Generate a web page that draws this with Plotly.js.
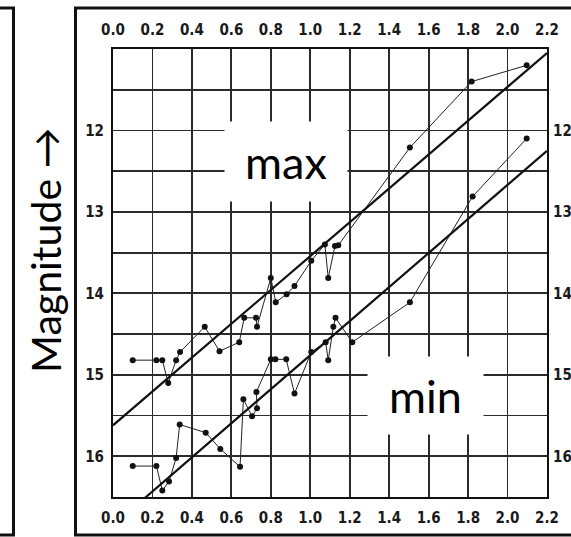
<!DOCTYPE html>
<html>
<head>
<meta charset="utf-8">
<script src="https://cdn.plot.ly/plotly-3.0.1.min.js"></script>
<style>html,body{margin:0;padding:0;background:#fff;}#chart{width:571px;height:537px;}</style>
</head>
<body>
<div id="chart"></div>
<script>
// log period values and magnitudes
const maxLogP = [0.10,0.22,0.25,0.28,0.32,0.34,0.465,0.54,0.64,0.665,0.725,0.73,0.80,0.825,0.88,0.92,1.005,1.074,1.091,1.125,1.142,1.505,1.818,2.097];
const maxMag  = [14.82,14.82,14.82,15.10,14.82,14.72,14.41,14.71,14.60,14.30,14.30,14.41,13.81,14.11,14.01,13.91,13.60,13.40,13.81,13.42,13.41,12.21,11.40,11.20];
const minLogP = [0.10,0.22,0.25,0.284,0.32,0.338,0.47,0.544,0.644,0.661,0.705,0.73,0.727,0.80,0.823,0.878,0.92,1.005,1.078,1.091,1.117,1.128,1.213,1.505,1.823,2.097];
const minMag  = [16.12,16.12,16.42,16.31,16.02,15.61,15.71,15.91,16.13,15.30,15.51,15.41,15.21,14.81,14.81,14.81,15.23,14.72,14.60,14.82,14.41,14.30,14.60,14.11,12.81,12.10];
// straight fitted lines (end points)
const maxFitLogP = [0, 2.2];
const maxFitMag  = [15.62, 11.05];
const minFitLogP = [0, 2.2];
const minFitMag  = [16.85, 12.25];
// tick labels
const xTickVals = [0,0.2,0.4,0.6,0.8,1.0,1.2,1.4,1.6,1.8,2.0,2.2];
const xTickText = ['0.0','0.2','0.4','0.6','0.8','1.0','1.2','1.4','1.6','1.8','2.0','2.2'];
const yTickVals = [12,13,14,15,16];
const yTickText = ['12','13','14','15','16'];
// labels
const yAxisLabel = 'Magnitude \u2192';
const maxLabel = 'max';
const minLabel = 'min';

const W = 571, H = 537;
const M = {l:113, r:24, t:49, b:40};
const pw = W - M.l - M.r, ph = H - M.t - M.b;
const px = v => (v - M.l) / pw;
const py = v => (H - M.b - v) / ph;

const ptStyle = {color:'#111', size:6};
const thin = {color:'#222', width:1};
const thick = {color:'#111', width:2.2};

const traces = [
  {x:maxLogP, y:maxMag, mode:'lines+markers', marker:ptStyle, line:thin, xaxis:'x', yaxis:'y', hoverinfo:'skip'},
  {x:minLogP, y:minMag, mode:'lines+markers', marker:ptStyle, line:thin, xaxis:'x', yaxis:'y', hoverinfo:'skip'},
  {x:maxFitLogP, y:maxFitMag, mode:'lines', line:thick, xaxis:'x2', yaxis:'y2', hoverinfo:'skip'},
  {x:minFitLogP, y:minFitMag, mode:'lines', line:thick, xaxis:'x2', yaxis:'y2', hoverinfo:'skip'}
];

const tickFont = {family:'"Liberation Sans Narrow", "DejaVu Sans Condensed", sans-serif', size:15, color:'#1a1a1a', weight:700};
const gridC = '#2b2b2b';
const xr = [0, 2.2], yr = [16.5, 11];

const layout = {
  width:W, height:H, margin:M, showlegend:false,
  paper_bgcolor:'#fff', plot_bgcolor:'#fff',
  xaxis:{range:xr, tickmode:'array', tickvals:xTickVals, ticktext:xTickText, showgrid:true, gridcolor:gridC, gridwidth:1.8,
         zeroline:false, showline:true, linecolor:'#111', linewidth:2, mirror:true,
         ticks:'outside', ticklen:6, tickcolor:'rgba(0,0,0,0)', tickfont:tickFont, fixedrange:true},
  yaxis:{range:yr, tickmode:'array', tickvals:yTickVals, ticktext:yTickText, showgrid:true, gridcolor:gridC, gridwidth:1.8,
         minor:{tickmode:'linear', tick0:11, dtick:0.5, showgrid:true, gridcolor:gridC, gridwidth:1.8},
         zeroline:false, showline:true, linecolor:'#111', linewidth:2, mirror:true,
         ticks:'outside', ticklen:4, tickcolor:'rgba(0,0,0,0)', tickfont:tickFont, fixedrange:true},
  xaxis2:{range:xr, tickmode:'array', tickvals:xTickVals, ticktext:xTickText, overlaying:'x', side:'top', showgrid:false, zeroline:false,
          ticks:'outside', ticklen:7, tickcolor:'rgba(0,0,0,0)', tickfont:tickFont, fixedrange:true},
  yaxis2:{range:yr, tickmode:'array', tickvals:yTickVals, ticktext:yTickText, overlaying:'y', side:'right', showgrid:false, zeroline:false,
          ticks:'outside', ticklen:2, tickcolor:'rgba(0,0,0,0)', tickfont:tickFont, fixedrange:true},
  shapes:[
    // outer frame round the plot (left, top, bottom)
    {type:'line', xref:'paper', yref:'paper', x0:px(75.5), x1:px(75.5), y0:py(8), y1:py(535), line:{color:'#111', width:3}},
    {type:'line', xref:'paper', yref:'paper', x0:px(74), x1:px(575), y0:py(8), y1:py(8), line:{color:'#111', width:3}},
    {type:'line', xref:'paper', yref:'paper', x0:px(74), x1:px(575), y0:py(535), y1:py(535), line:{color:'#111', width:3}},
    // partial frame at far left
    {type:'line', xref:'paper', yref:'paper', x0:px(13.5), x1:px(13.5), y0:py(8), y1:py(535), line:{color:'#111', width:3}},
    {type:'line', xref:'paper', yref:'paper', x0:px(-5), x1:px(15), y0:py(8), y1:py(8), line:{color:'#111', width:3}},
    {type:'line', xref:'paper', yref:'paper', x0:px(-5), x1:px(15), y0:py(535), y1:py(535), line:{color:'#111', width:3}}
  ],
  annotations:[
    {text:yAxisLabel, xref:'paper', yref:'paper', x:px(45), y:py(250), textangle:-90, showarrow:false,
     font:{family:'Lato, "Open Sans", sans-serif', size:41, color:'#000'}, xanchor:'center', yanchor:'middle'},
    {text:maxLabel, xref:'paper', yref:'paper', x:px(286), y:py(161.5), showarrow:false, bgcolor:'#fff',
     width:122, height:79, borderpad:0, font:{family:'Lato, "Open Sans", sans-serif', size:45, color:'#000'}, xanchor:'center', yanchor:'middle'},
    {text:minLabel, xref:'paper', yref:'paper', x:px(425.5), y:py(395.5), showarrow:false, bgcolor:'#fff',
     width:115, height:77, borderpad:0, font:{family:'Lato, "Open Sans", sans-serif', size:45, color:'#000'}, xanchor:'center', yanchor:'middle'}
  ]
};

Plotly.newPlot('chart', traces, layout, {staticPlot:true, displayModeBar:false});
</script>
</body>
</html>
